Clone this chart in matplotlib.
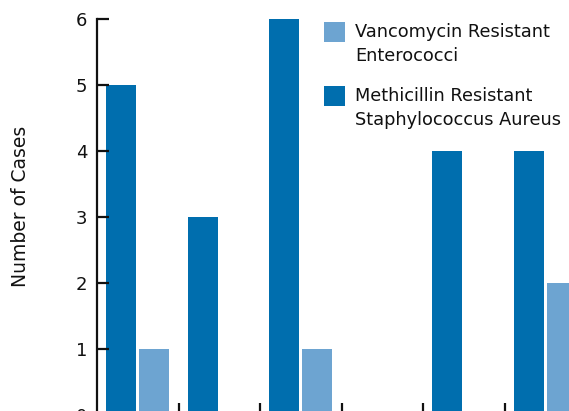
import matplotlib
matplotlib.use("Agg")
import matplotlib.pyplot as plt
from matplotlib.patches import Rectangle
import numpy as np

plt.rcParams['font.family'] = ['DejaVu Sans']

groups = ["G1", "G2", "G3", "G4", "G5", "G6"]
mrsa = [5, 3, 6, 0, 4, 4]
vre = [1, 0, 1, 0, 0, 2]
series_labels = ["Vancomycin Resistant\nEnterococci", "Methicillin Resistant\nStaphylococcus Aureus"]
colors = {"vre": "#6DA4D1", "mrsa": "#006EAE"}
yticks = [0, 1, 2, 3, 4, 5, 6]

W, H = 569, 411
fig = plt.figure(figsize=(W / 100, H / 100), dpi=100)
left = 97 / W
bottom = (H - 415) / H
top = (H - 19) / H
grp_w = 81.6
ax = fig.add_axes([left, bottom, len(groups) * grp_w / W, top - bottom])

x = np.arange(len(groups))
bw = 0.367
ax.bar(x + 0.11, mrsa, width=bw, align='edge', color=colors["mrsa"], linewidth=0)
ax.bar(x + 0.515, vre, width=bw, align='edge', color=colors["vre"], linewidth=0)

ax.set_xlim(0, len(groups))
ax.set_ylim(0, 6)
ax.set_yticks(yticks)
ax.set_xticks(np.arange(1, len(groups)))
ax.set_xticklabels([])
for s in ['top', 'right']:
    ax.spines[s].set_visible(False)
for s in ['left', 'bottom']:
    ax.spines[s].set_linewidth(1.6)
    ax.spines[s].set_color('#111111')
ax.tick_params(axis='both', direction='in', length=8.5, width=1.6, color='#111111')
ax.tick_params(axis='y', labelsize=13, pad=7, labelcolor='#111111')

fig.text(21 / W, (H - 206) / H, "Number of Cases", rotation=90, fontsize=13.5,
         ha='center', va='center', color='#111111')

# legend (manual, figure pixel coords)
leg_items = [(series_labels[0], colors["vre"], 22), (series_labels[1], colors["mrsa"], 86)]
for lab, col, ytop in leg_items:
    fig.patches.append(Rectangle((324 / W, (H - ytop - 20) / H), 21 / W, 20 / H,
                                 transform=fig.transFigure, color=col, linewidth=0))
    fig.text(355 / W, (H - ytop - 1) / H, lab, fontsize=12.8, va='top', ha='left',
             color='#111111', linespacing=1.42)

fig.savefig("out.png", dpi=100)
